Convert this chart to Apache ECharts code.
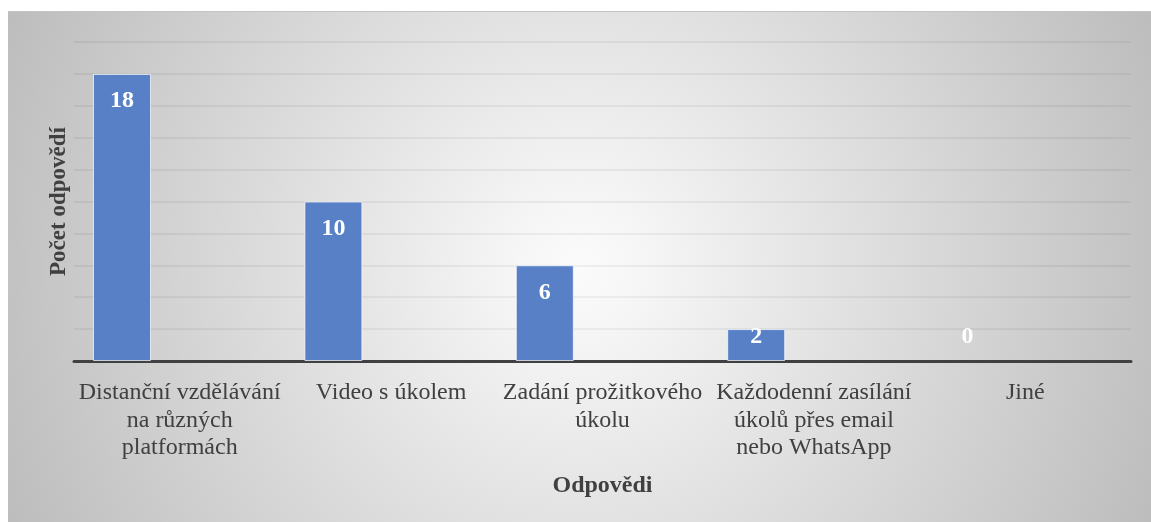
<!DOCTYPE html>
<html>
<head>
<meta charset="utf-8">
<script src="https://cdn.jsdelivr.net/npm/echarts@6/dist/echarts.min.js"></script>
<style>
html,body{margin:0;padding:0;background:#fff;width:1151px;height:522px;overflow:hidden;}
#chart{position:absolute;left:8px;top:11px;width:1143px;height:511px;border-top:1px solid #c4c4c4;box-sizing:border-box;}
</style>
</head>
<body>
<div id="chart"></div>
<script>
const categories = [
  'Distanční vzdělávání\nna různých\nplatformách',
  'Video s úkolem',
  'Zadání prožitkového\núkolu',
  'Každodenní zasílání\núkolů přes email\nnebo WhatsApp',
  'Jiné'
];
const values = [18, 10, 6, 2, 0];
const xAxisTitle = 'Odpovědi';
const yAxisTitle = 'Počet odpovědí';
const yMin = 0, yMax = 20, yStep = 2;

const FONT = '"Liberation Serif", "Times New Roman", serif';
const chart = echarts.init(document.getElementById('chart'));

const barData = values.map(v => ({
  value: v,
  itemStyle: v === 0 ? { borderWidth: 0, color: 'transparent' } : undefined,
  label: v < 4 ? { position: 'insideBottom', distance: 12 } : { position: 'insideTop', distance: 15 }
}));

chart.setOption({
  backgroundColor: {
    type: 'radial', x: 0.5, y: 0.5, r: 1.22,
    colorStops: [
      { offset: 0, color: '#fbfbfb' },
      { offset: 0.1, color: '#f6f6f6' },
      { offset: 1, color: '#bdbdbd' }
    ]
  },
  animation: false,
  grid: [
    { left: 66, right: 20, top: 30, bottom: 161 },
    { left: 8.3, right: 77.7, top: 30, bottom: 161 }
  ],
  xAxis: [
    {
      type: 'category', gridIndex: 0, data: categories,
      axisLine: { show: true, lineStyle: { color: '#404040', width: 3 } },
      axisTick: { show: false },
      axisLabel: { color: '#404040', fontFamily: FONT, fontSize: 24, lineHeight: 27.5, margin: 18, interval: 0 },
      name: xAxisTitle, nameLocation: 'middle', nameGap: 113,
      nameTextStyle: { color: '#404040', fontFamily: FONT, fontSize: 24, fontWeight: 'bold' }
    },
    {
      type: 'category', gridIndex: 1, data: categories, show: false
    }
  ],
  yAxis: [
    {
      type: 'value', gridIndex: 0, min: yMin, max: yMax, interval: yStep,
      axisLine: { show: false }, axisTick: { show: false }, axisLabel: { show: false },
      splitLine: { lineStyle: { color: 'rgba(0,0,0,0.05)', width: 2 } },
      name: yAxisTitle, nameLocation: 'middle', nameGap: 3,
      nameTextStyle: { color: '#404040', fontFamily: FONT, fontSize: 23, fontWeight: 'bold' }
    },
    {
      type: 'value', gridIndex: 1, min: yMin, max: yMax, interval: yStep, show: false
    }
  ],
  series: [{
    type: 'bar', xAxisIndex: 1, yAxisIndex: 1,
    data: barData, barWidth: 58,
    itemStyle: { color: '#5880c7', borderColor: 'rgba(255,255,255,0.7)', borderWidth: 1 },
    label: { show: true, color: '#ffffff', fontFamily: FONT, fontSize: 24, fontWeight: 'bold' }
  }]
});
</script>
</body>
</html>
